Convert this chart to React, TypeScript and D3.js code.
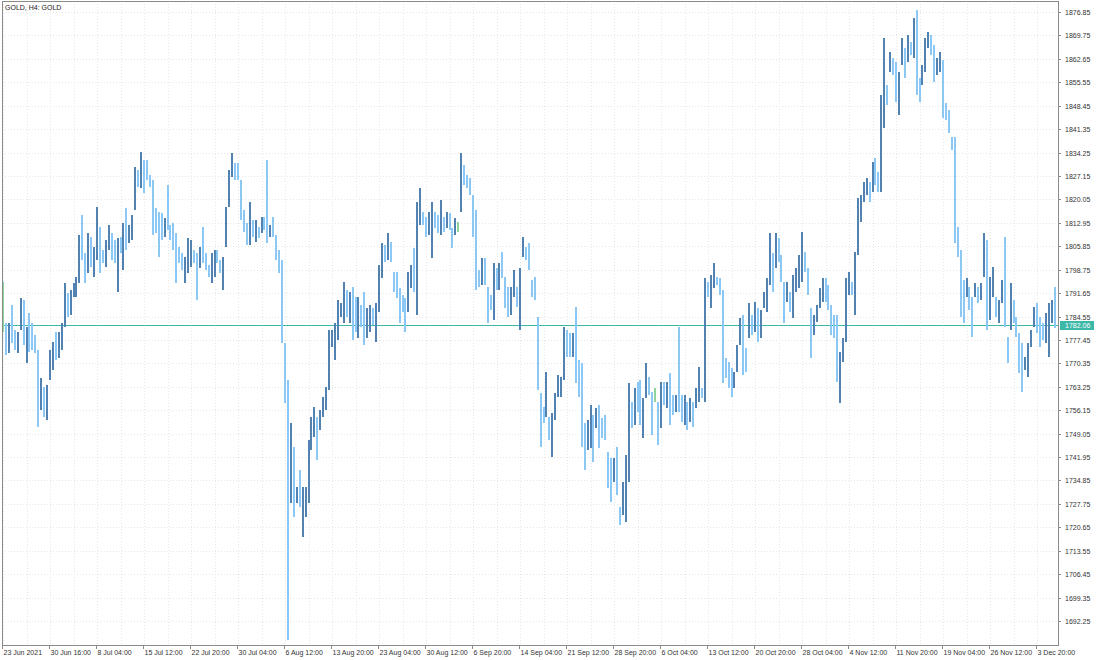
import React from "react";
import * as d3 from "d3";

// GOLD H4 bars, one entry per two H4 periods (prices)
const highs = [
	1795.0, 1782.6, 1782.6, 1788.1, 1780.5, 1779.9, 1790.2, 1789.6, 1781.4, 1785.6, 1782.6, 1779.0, 1774.4, 1765.9, 1763.2, 1763.8,
	1774.4, 1776.8, 1779.9, 1779.9, 1782.6, 1794.7, 1791.7, 1792.6, 1794.7, 1796.6, 1809.3, 1815.3, 1803.8, 1809.9, 1808.7, 1805.7,
	1817.8, 1811.7, 1804.7, 1807.8, 1812.3, 1809.9, 1807.8, 1808.4, 1808.7, 1812.9, 1817.5, 1812.3, 1815.3, 1829.9, 1829.0, 1834.4,
	1832.0, 1832.0, 1827.5, 1825.9, 1817.5, 1816.2, 1815.9, 1814.4, 1824.4, 1812.3, 1812.9, 1809.9, 1805.7, 1803.8, 1802.6, 1808.4,
	1807.8, 1804.7, 1803.8, 1805.7, 1811.7, 1803.8, 1800.2, 1803.8, 1804.7, 1804.7, 1801.7, 1802.6, 1817.8, 1829.0, 1834.1, 1831.1,
	1831.1, 1825.9, 1816.8, 1812.9, 1819.3, 1813.8, 1813.8, 1811.7, 1814.7, 1814.7, 1832.0, 1812.3, 1814.7, 1809.3, 1804.7, 1801.7,
	1776.5, 1765.3, 1752.3, 1745.0, 1732.9, 1738.0, 1732.9, 1732.9, 1747.1, 1754.1, 1757.1, 1754.1, 1756.2, 1760.2, 1763.2, 1780.5,
	1780.5, 1782.6, 1789.6, 1788.7, 1795.0, 1792.6, 1792.0, 1793.5, 1790.5, 1790.5, 1788.1, 1792.0, 1787.2, 1788.1, 1787.2, 1788.7,
	1800.2, 1806.9, 1806.3, 1809.9, 1807.2, 1798.1, 1798.1, 1793.2, 1791.1, 1790.2, 1798.1, 1800.2, 1805.4, 1819.3, 1823.5, 1816.2,
	1814.7, 1816.2, 1819.3, 1816.2, 1815.3, 1819.9, 1814.7, 1816.2, 1815.9, 1811.4, 1814.4, 1813.2, 1834.1, 1830.5, 1827.5, 1826.6,
	1821.4, 1816.8, 1798.7, 1802.3, 1802.3, 1793.5, 1791.1, 1800.8, 1799.3, 1800.8, 1804.1, 1796.6, 1793.5, 1793.5, 1798.7, 1793.5,
	1799.3, 1808.7, 1805.7, 1806.9, 1795.6, 1796.6, 1784.4, 1761.4, 1757.1, 1767.7, 1754.1, 1755.3, 1761.4, 1766.8, 1766.2, 1781.4,
	1780.5, 1779.6, 1779.6, 1787.4, 1771.4, 1770.5, 1752.3, 1753.2, 1757.7, 1754.7, 1756.9, 1757.7, 1753.8, 1754.7, 1743.5, 1741.7,
	1741.7, 1745.0, 1726.8, 1734.4, 1742.6, 1764.4, 1758.7, 1762.9, 1764.7, 1765.3, 1759.9, 1770.5, 1766.2, 1761.7, 1762.9, 1758.7,
	1764.7, 1764.7, 1764.7, 1767.4, 1760.8, 1760.8, 1781.4, 1760.8, 1760.8, 1758.7, 1759.9, 1758.7, 1762.9, 1769.2, 1762.9, 1796.3,
	1795.0, 1797.2, 1800.8, 1796.6, 1796.3, 1792.6, 1772.0, 1770.8, 1768.9, 1767.7, 1775.9, 1784.1, 1785.0, 1775.0, 1788.7, 1785.0,
	1789.0, 1787.2, 1786.5, 1792.0, 1796.3, 1809.9, 1803.8, 1809.9, 1808.4, 1803.2, 1795.0, 1795.0, 1792.0, 1797.2, 1799.3, 1803.2,
	1810.2, 1804.1, 1799.3, 1787.2, 1785.0, 1788.1, 1793.2, 1796.3, 1796.3, 1794.1, 1788.1, 1785.0, 1785.0, 1773.8, 1778.0, 1796.3,
	1798.1, 1795.0, 1804.1, 1820.5, 1821.4, 1825.3, 1826.6, 1825.3, 1831.4, 1832.6, 1828.4, 1851.7, 1869.0, 1854.8, 1864.7, 1862.9,
	1861.7, 1858.7, 1869.0, 1866.0, 1869.9, 1867.8, 1875.0, 1877.5, 1856.9, 1860.8, 1869.0, 1870.8, 1869.9, 1866.8, 1862.9, 1864.7,
	1862.3, 1849.3, 1847.2, 1839.0, 1839.0, 1811.7, 1804.7, 1795.6, 1796.3, 1793.5, 1790.5, 1794.7, 1793.5, 1794.7, 1809.9, 1807.8,
	1796.6, 1799.6, 1790.5, 1789.6, 1795.6, 1808.7, 1778.3, 1794.7, 1789.6, 1784.4, 1779.6, 1776.5, 1772.3, 1776.5, 1780.5, 1787.4,
	1788.7, 1784.4, 1782.6, 1785.6, 1788.7, 1789.6, 1793.5,
];

const lows = [
	1779.9, 1772.9, 1773.5, 1776.5, 1774.4, 1773.5, 1780.5, 1775.9, 1770.5, 1773.8, 1774.4, 1773.5, 1751.1, 1756.2, 1754.1, 1753.2,
	1765.3, 1768.3, 1771.4, 1772.0, 1774.4, 1781.4, 1784.4, 1785.0, 1790.5, 1790.5, 1794.7, 1801.7, 1794.7, 1797.8, 1799.6, 1796.6,
	1801.7, 1797.8, 1800.8, 1799.6, 1804.7, 1801.7, 1800.8, 1792.0, 1803.8, 1798.7, 1804.7, 1806.9, 1807.8, 1816.8, 1823.8, 1823.5,
	1822.0, 1825.9, 1823.8, 1809.3, 1809.9, 1802.6, 1807.8, 1808.7, 1810.8, 1807.8, 1804.7, 1794.7, 1800.8, 1798.7, 1794.7, 1797.8,
	1799.6, 1800.8, 1789.6, 1799.3, 1800.8, 1798.7, 1796.6, 1794.7, 1796.6, 1800.8, 1797.8, 1792.6, 1805.7, 1817.8, 1826.9, 1825.9,
	1825.9, 1813.8, 1810.2, 1806.3, 1806.3, 1808.7, 1807.2, 1808.4, 1809.9, 1810.8, 1806.9, 1808.7, 1808.7, 1801.7, 1797.8, 1776.5,
	1758.4, 1686.5, 1728.0, 1723.8, 1728.0, 1726.8, 1717.7, 1723.8, 1728.0, 1744.1, 1748.0, 1741.1, 1750.2, 1754.1, 1756.2, 1762.3,
	1775.3, 1771.4, 1777.4, 1784.4, 1782.6, 1784.4, 1782.6, 1777.4, 1779.9, 1778.0, 1781.4, 1775.9, 1778.0, 1779.9, 1782.0, 1776.8,
	1785.9, 1796.3, 1801.1, 1801.7, 1801.1, 1792.0, 1790.2, 1782.6, 1785.9, 1779.9, 1785.9, 1793.2, 1792.0, 1785.0, 1812.3, 1812.3,
	1808.7, 1809.3, 1802.3, 1811.4, 1809.9, 1809.3, 1810.2, 1811.4, 1810.8, 1805.4, 1809.3, 1810.2, 1816.2, 1824.4, 1823.5, 1821.4,
	1808.7, 1792.6, 1793.5, 1794.1, 1794.1, 1782.6, 1786.5, 1783.5, 1792.6, 1792.6, 1796.3, 1787.2, 1784.4, 1785.0, 1790.5, 1787.4,
	1780.5, 1802.6, 1801.7, 1798.7, 1790.5, 1789.6, 1762.3, 1745.0, 1752.3, 1754.1, 1747.1, 1742.0, 1753.2, 1760.2, 1760.2, 1765.3,
	1772.3, 1772.3, 1772.3, 1764.4, 1760.2, 1745.0, 1738.0, 1744.1, 1744.7, 1740.5, 1750.8, 1744.7, 1747.7, 1747.1, 1732.6, 1728.3,
	1734.4, 1730.5, 1721.4, 1724.4, 1722.3, 1734.4, 1750.8, 1751.7, 1755.6, 1751.7, 1747.7, 1759.9, 1760.8, 1748.6, 1758.7, 1745.6,
	1750.8, 1757.7, 1756.9, 1751.7, 1754.7, 1755.6, 1755.6, 1752.6, 1751.7, 1750.2, 1752.6, 1751.1, 1756.9, 1758.7, 1759.9, 1758.7,
	1790.5, 1787.2, 1793.2, 1794.1, 1791.1, 1764.4, 1765.9, 1762.9, 1760.2, 1762.9, 1767.7, 1775.9, 1766.8, 1767.7, 1778.0, 1779.0,
	1779.9, 1776.8, 1778.0, 1787.2, 1785.9, 1794.1, 1792.0, 1799.3, 1801.1, 1795.0, 1782.6, 1789.0, 1785.9, 1784.1, 1792.0, 1793.2,
	1795.0, 1798.1, 1791.1, 1772.0, 1779.0, 1782.9, 1787.2, 1789.0, 1789.0, 1786.5, 1779.0, 1778.0, 1764.7, 1758.4, 1770.8, 1776.8,
	1791.1, 1791.1, 1785.0, 1803.2, 1813.2, 1819.3, 1821.4, 1819.3, 1822.3, 1824.4, 1822.3, 1822.3, 1841.8, 1848.7, 1858.7, 1857.8,
	1849.6, 1845.7, 1860.8, 1856.9, 1861.7, 1863.8, 1862.9, 1851.7, 1849.6, 1854.8, 1858.7, 1866.0, 1863.8, 1855.6, 1857.8, 1858.7,
	1844.7, 1844.1, 1840.2, 1835.0, 1806.9, 1802.6, 1784.4, 1782.6, 1790.5, 1786.5, 1778.3, 1790.5, 1788.7, 1789.6, 1796.6, 1780.5,
	1783.5, 1790.5, 1784.4, 1782.6, 1788.7, 1781.4, 1770.5, 1780.5, 1782.6, 1778.3, 1767.4, 1761.7, 1768.3, 1766.2, 1775.3, 1781.4,
	1779.6, 1775.3, 1777.4, 1776.5, 1772.3, 1782.6, 1781.1,
];

// close of each bar; the open is the previous close
const closes = [
	1783.5, 1777.4, 1780.5, 1779.0, 1775.9, 1779.0, 1785.0, 1779.0, 1780.5, 1777.4, 1775.9, 1774.4, 1759.3, 1760.8, 1756.2, 1762.9,
	1771.4, 1774.4, 1772.9, 1779.0, 1782.0, 1789.6, 1788.1, 1791.1, 1792.6, 1795.6, 1806.3, 1803.2, 1801.7, 1806.3, 1801.7, 1804.7,
	1809.3, 1803.2, 1802.3, 1806.3, 1807.8, 1804.7, 1803.2, 1806.3, 1805.4, 1810.8, 1809.3, 1810.8, 1815.3, 1827.5, 1825.9, 1830.5,
	1829.0, 1826.6, 1825.3, 1815.3, 1813.8, 1812.3, 1810.8, 1813.2, 1812.3, 1809.3, 1807.8, 1804.7, 1802.3, 1800.2, 1801.1, 1803.2,
	1804.1, 1802.3, 1801.7, 1804.7, 1802.3, 1799.3, 1798.7, 1800.2, 1803.2, 1801.1, 1800.2, 1801.7, 1816.8, 1827.5, 1829.0, 1828.4,
	1826.6, 1816.8, 1811.4, 1810.8, 1812.3, 1810.8, 1812.3, 1810.2, 1813.2, 1812.3, 1810.8, 1811.4, 1809.3, 1803.2, 1800.2, 1777.4,
	1762.3, 1738.0, 1744.1, 1730.5, 1731.1, 1728.9, 1730.5, 1732.0, 1744.1, 1750.2, 1753.2, 1751.7, 1754.7, 1759.3, 1762.3, 1777.4,
	1779.0, 1780.5, 1786.5, 1787.4, 1789.6, 1788.1, 1789.6, 1786.5, 1783.5, 1786.5, 1785.0, 1780.5, 1783.5, 1785.0, 1783.5, 1786.5,
	1798.7, 1804.7, 1803.2, 1804.7, 1801.7, 1795.6, 1792.6, 1789.6, 1788.1, 1787.2, 1795.6, 1797.2, 1795.6, 1816.8, 1818.4, 1813.8,
	1810.8, 1813.8, 1815.3, 1813.8, 1812.3, 1814.4, 1813.2, 1814.4, 1812.3, 1807.8, 1812.3, 1812.3, 1830.5, 1827.5, 1825.9, 1822.9,
	1812.3, 1798.7, 1795.6, 1800.2, 1795.6, 1789.6, 1788.7, 1798.7, 1795.6, 1800.2, 1797.2, 1791.1, 1789.6, 1792.6, 1794.1, 1791.1,
	1798.7, 1806.3, 1804.1, 1800.2, 1792.6, 1791.1, 1765.3, 1756.2, 1754.7, 1763.8, 1750.2, 1753.2, 1759.3, 1763.8, 1765.3, 1779.0,
	1775.9, 1774.4, 1777.4, 1769.9, 1765.3, 1750.2, 1747.1, 1750.2, 1753.2, 1751.7, 1754.7, 1751.7, 1750.8, 1748.6, 1738.0, 1735.0,
	1739.5, 1732.0, 1724.4, 1728.9, 1738.0, 1760.8, 1756.2, 1760.8, 1759.3, 1754.7, 1757.7, 1766.8, 1762.9, 1760.8, 1760.8, 1754.7,
	1762.3, 1760.8, 1762.3, 1759.3, 1757.7, 1759.3, 1758.7, 1756.2, 1757.7, 1753.2, 1757.7, 1756.8, 1760.8, 1765.3, 1762.3, 1792.6,
	1792.0, 1794.1, 1797.2, 1795.6, 1792.6, 1768.3, 1767.7, 1765.3, 1763.8, 1766.8, 1774.4, 1780.5, 1777.4, 1772.9, 1785.0, 1782.0,
	1786.5, 1780.5, 1785.9, 1789.6, 1794.1, 1804.7, 1801.7, 1806.3, 1803.2, 1797.2, 1791.1, 1792.6, 1789.6, 1794.1, 1797.2, 1800.2,
	1801.7, 1800.2, 1792.6, 1780.5, 1783.5, 1786.5, 1791.1, 1792.6, 1791.1, 1788.1, 1782.0, 1780.5, 1771.4, 1772.0, 1775.9, 1792.6,
	1794.1, 1793.2, 1803.2, 1816.8, 1818.4, 1822.9, 1824.4, 1821.4, 1829.0, 1827.5, 1825.9, 1850.2, 1853.2, 1851.7, 1862.3, 1860.8,
	1856.3, 1857.8, 1865.3, 1863.8, 1866.8, 1865.3, 1871.4, 1854.8, 1853.2, 1859.3, 1866.8, 1868.4, 1865.3, 1859.3, 1860.8, 1862.3,
	1850.2, 1847.2, 1842.6, 1836.5, 1809.3, 1806.3, 1792.6, 1789.6, 1794.1, 1789.6, 1788.1, 1792.6, 1791.1, 1794.1, 1806.3, 1789.6,
	1792.6, 1795.6, 1786.5, 1788.1, 1792.6, 1783.5, 1774.4, 1789.6, 1785.0, 1780.5, 1771.4, 1768.3, 1769.9, 1774.4, 1779.0, 1785.0,
	1782.0, 1780.5, 1779.6, 1783.5, 1786.5, 1788.1, 1782.06,
];

const priceTicks = [
	1876.85, 1869.75, 1862.65, 1855.55, 1848.45, 1841.35, 1834.25, 1827.15, 1820.05, 1812.95, 1805.85, 1798.75, 1791.65, 1784.55,
	1777.45, 1770.35, 1763.25, 1756.15, 1749.05, 1741.95, 1734.85, 1727.75, 1720.65, 1713.55, 1706.45, 1699.35, 1692.25,
];

const timeLabels = [
	"23 Jun 2021", "30 Jun 16:00", "8 Jul 04:00", "15 Jul 12:00", "22 Jul 20:00", "30 Jul 04:00", "6 Aug 12:00", "13 Aug 20:00",
	"23 Aug 04:00", "30 Aug 12:00", "6 Sep 20:00", "14 Sep 04:00", "21 Sep 12:00", "28 Sep 20:00", "6 Oct 04:00", "13 Oct 12:00",
	"20 Oct 20:00", "28 Oct 04:00", "4 Nov 12:00", "11 Nov 20:00", "19 Nov 04:00", "26 Nov 12:00", "3 Dec 20:00",
];

const symbolTitle = "GOLD, H4:  GOLD";
const lastPrice = 1782.06;
const barsPerLabel = 16;

const W = 1100;
const H = 660;
const plot = { left: 2, right: 1058, top: 1, bottom: 645 };
const font = "'Liberation Sans', Arial, sans-serif";

const UP = "#5282b2";
const DOWN = "#8cc8f6";
const DOJI = "#8fd49a";
const GRID = "#e6e6e6";
const FRAME = "#8a8a8a";
const TEAL = "#3cb8a9";

export default function App() {
	const x = d3.scaleLinear().domain([0, barsPerLabel]).range([3, 3 + 47]);
	const y = d3
		.scaleLinear()
		.domain([priceTicks[priceTicks.length - 1], priceTicks[0]])
		.range([621, 12]);

	const bars = closes.map((c, i) => {
		const open = i === 0 ? c : closes[i - 1];
		const color = c > open ? UP : c < open ? DOWN : DOJI;
		return { i, hi: highs[i], lo: lows[i], color };
	});

	const gridXs = d3.range(0, closes.length, barsPerLabel / 2).map((i) => Math.round(x(i)) + 0.5);
	const lastY = Math.round(y(lastPrice)) + 0.5;

	return (
		<svg
			width={W}
			height={H}
			style={{ position: "fixed", left: 0, top: 0, background: "#fff" }}
			fontFamily={font}
		>
			<rect width={W} height={H} fill="#fff" />
			{/* grid */}
			<g stroke={GRID} strokeWidth={1} strokeDasharray="1,2">
				{priceTicks.map((p) => (
					<line key={p} x1={plot.left} x2={plot.right} y1={Math.round(y(p)) + 0.5} y2={Math.round(y(p)) + 0.5} />
				))}
				{gridXs.map((gx) => (
					<line key={gx} x1={gx} x2={gx} y1={plot.top} y2={plot.bottom} />
				))}
			</g>
			{/* last price line */}
			<line x1={plot.left} x2={plot.right} y1={lastY} y2={lastY} stroke={TEAL} strokeWidth={1} />
			{/* bars */}
			<g shapeRendering="crispEdges">
				{bars.map((b) => {
					const top = Math.round(y(b.hi));
					const bot = Math.round(y(b.lo));
					return (
						<rect
							key={b.i}
							x={Math.round(x(b.i)) - 1}
							y={top}
							width={2}
							height={Math.max(1, bot - top)}
							fill={b.color}
						/>
					);
				})}
			</g>
			{/* frame */}
			<g stroke={FRAME} strokeWidth={1} fill="none" shapeRendering="crispEdges">
				<rect x={plot.left + 0.5} y={plot.top + 0.5} width={plot.right - plot.left} height={plot.bottom - plot.top} />
			</g>
			{/* price axis */}
			<g fontSize={7} fill="#333">
				{priceTicks.map((p) => (
					<g key={p} transform={`translate(0,${Math.round(y(p)) + 0.5})`}>
						<line x1={plot.right} x2={plot.right + 3} stroke={FRAME} />
						<text x={plot.right + 7} dy="0.35em">
							{p.toFixed(2)}
						</text>
					</g>
				))}
			</g>
			<g transform={`translate(0,${lastY})`}>
				<rect x={plot.right + 2} y={-4.5} width={34} height={9} fill={TEAL} />
				<text x={plot.right + 7} dy="0.35em" fontSize={7} fill="#fff">
					{lastPrice.toFixed(2)}
				</text>
			</g>
			{/* time axis */}
			<g fontSize={7} fill="#333">
				{timeLabels.map((t, k) => {
					const tx = Math.round(x(k * barsPerLabel)) - 0.5;
					return (
						<g key={t} transform={`translate(${tx},0)`}>
							<line y1={plot.bottom} y2={plot.bottom + 4} stroke={FRAME} />
							<text x={1} y={655}>
								{t}
							</text>
						</g>
					);
				})}
			</g>
			<text x={5} y={10} fontSize={7} fill="#222">
				{symbolTitle}
			</text>
		</svg>
	);
}
